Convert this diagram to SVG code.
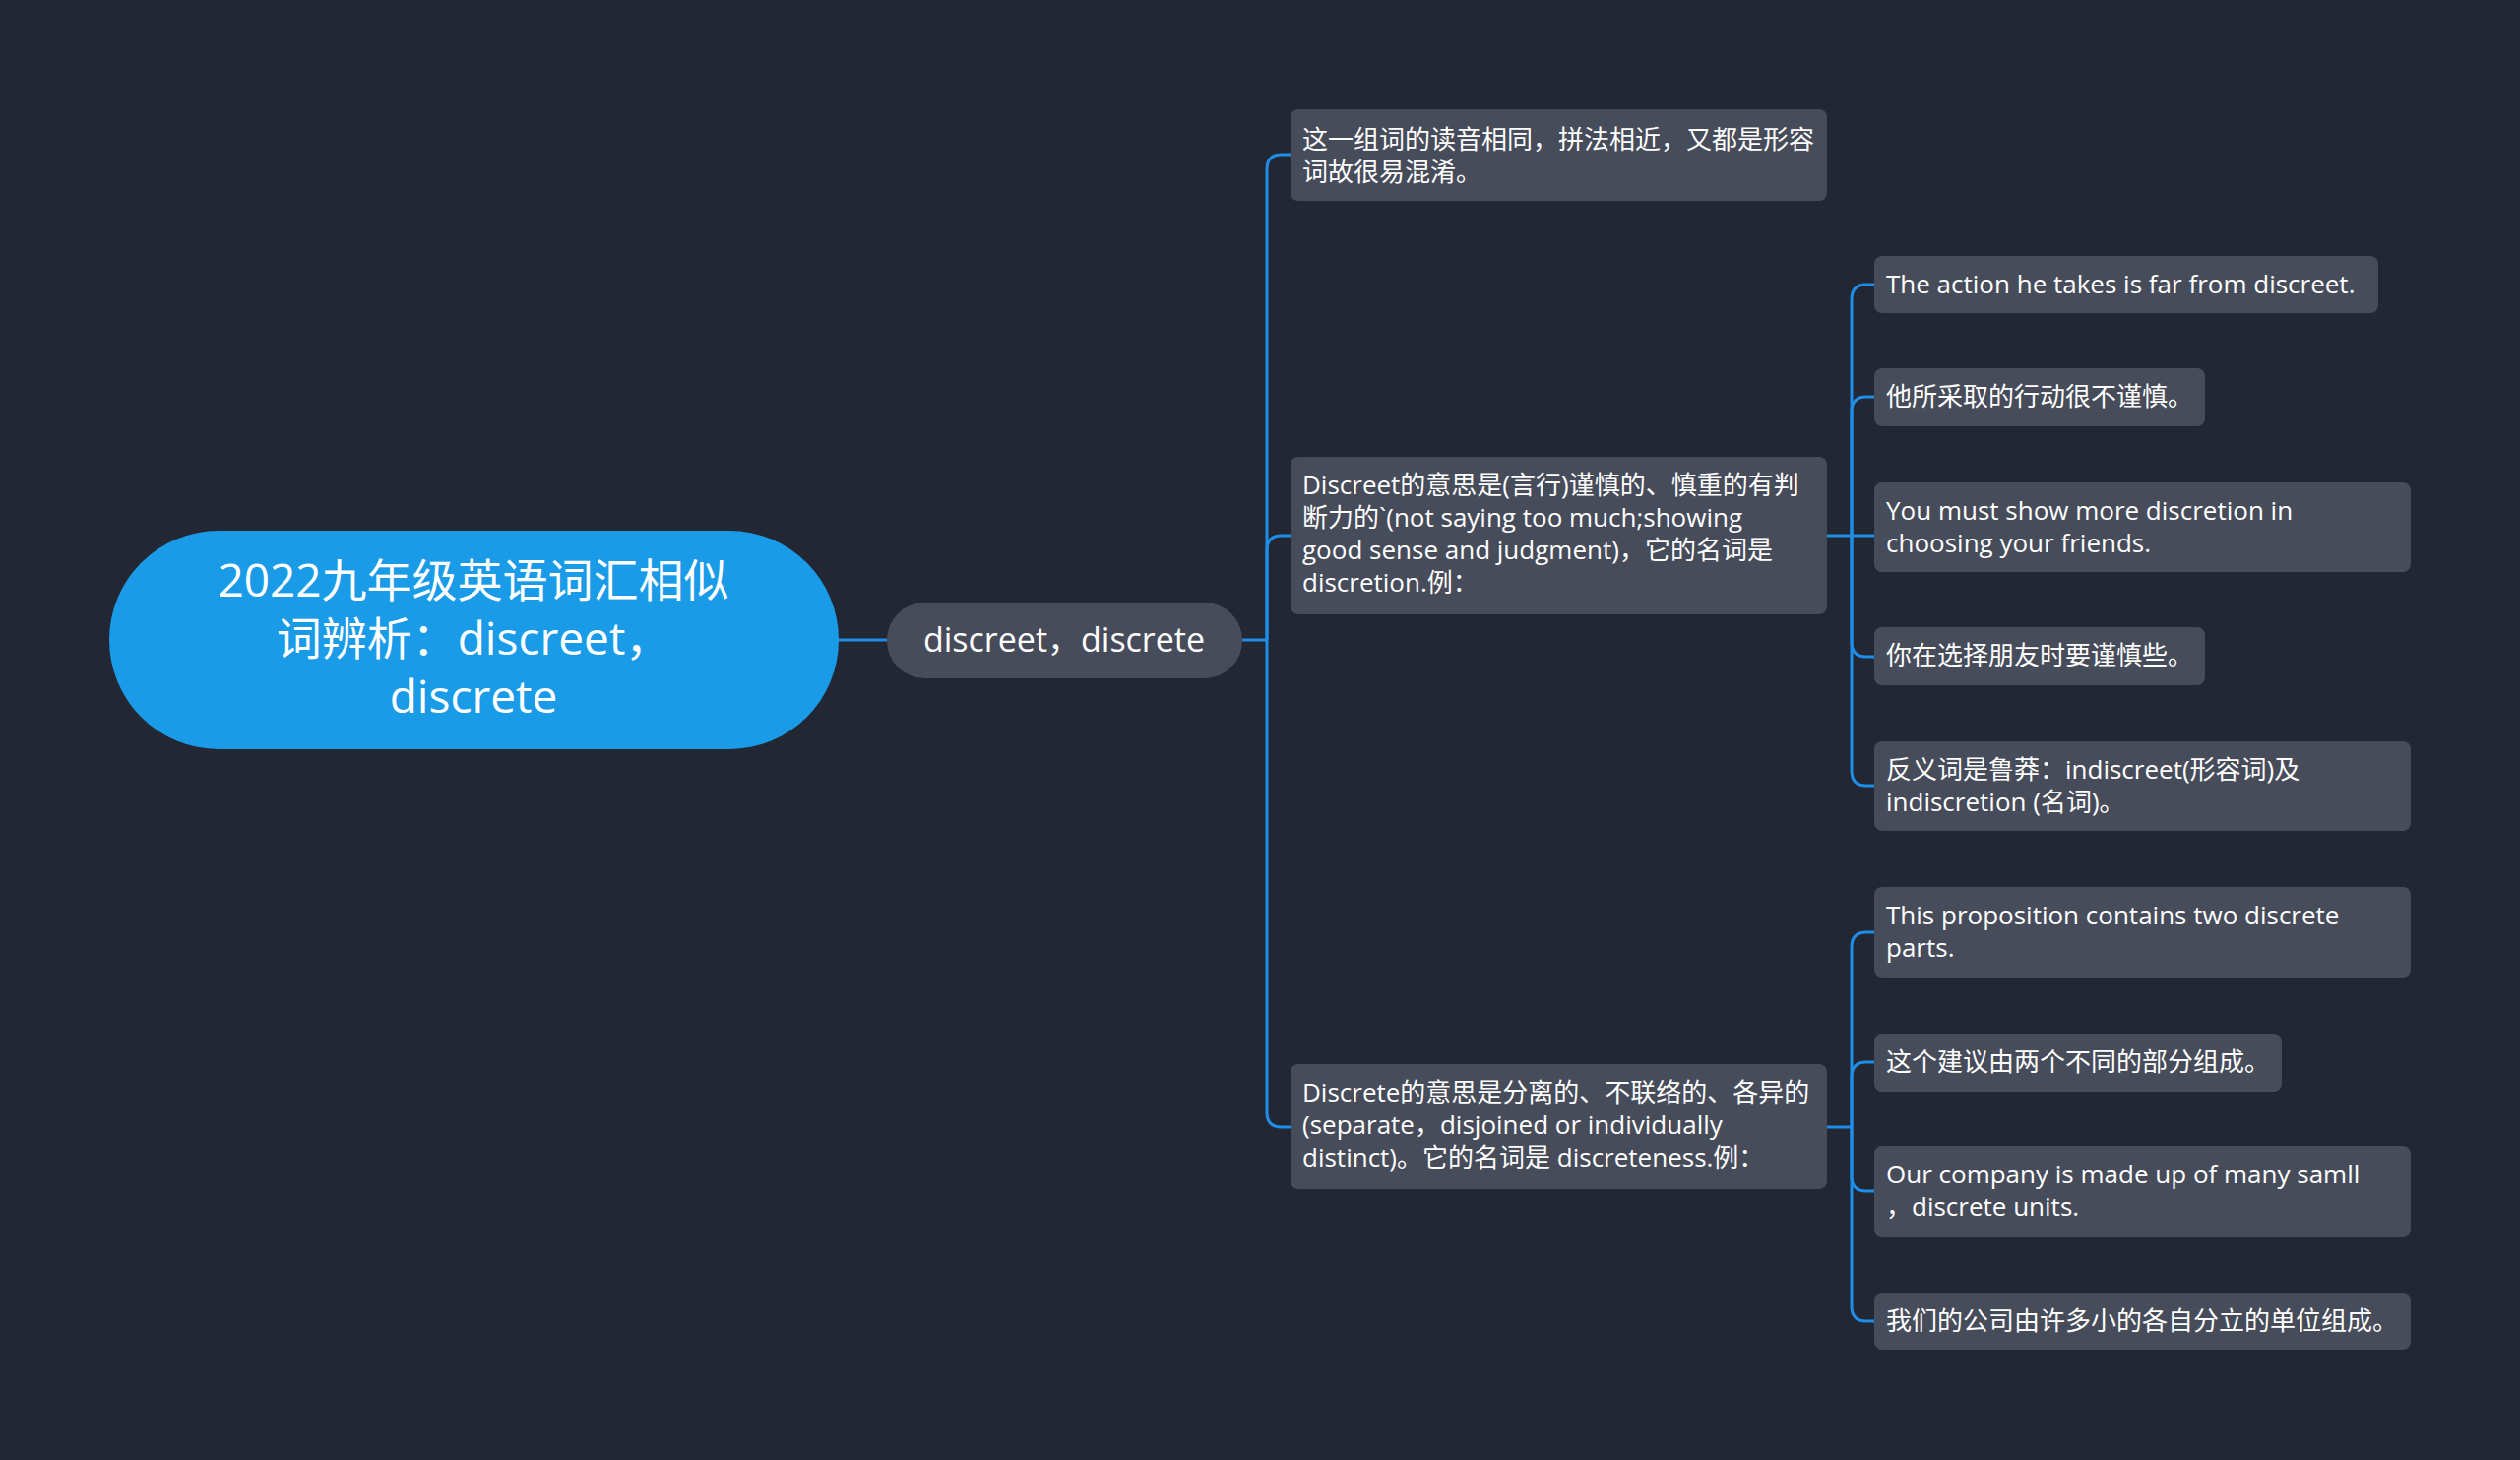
<svg xmlns="http://www.w3.org/2000/svg" width="2560" height="1483" viewBox="0 0 2560 1483">
<style>
.bg{fill:#222733}
.n{fill:#474c5a}
.t{font-family:"Open Sans","Noto Sans CJK SC",sans-serif;font-size:26px;fill:#ffffff}
.c{fill:none;stroke:#1e8ee8;stroke-width:3}
</style>
<rect class="bg" x="0" y="0" width="2560" height="1483"/>
<g id="connectors">
<path class="c" d="M852,650 L901,650"/>
<path class="c" d="M1262,650 L1287,650"/>
<path class="c" d="M1287,650 L1287,172 Q1287,157 1302,157 L1311,157"/>
<path class="c" d="M1287,650 L1287,559 Q1287,544 1302,544 L1311,544"/>
<path class="c" d="M1287,650 L1287,1130 Q1287,1145 1302,1145 L1311,1145"/>
<path class="c" d="M1856,544 L1881,544"/>
<path class="c" d="M1881,544 L1881,304 Q1881,289 1896,289 L1904,289"/>
<path class="c" d="M1881,544 L1881,418 Q1881,403 1896,403 L1904,403"/>
<path class="c" d="M1881,544 L1881,544 L1904,544"/>
<path class="c" d="M1881,544 L1881,652 Q1881,667 1896,667 L1904,667"/>
<path class="c" d="M1881,544 L1881,783 Q1881,798 1896,798 L1904,798"/>
<path class="c" d="M1856,1145 L1881,1145"/>
<path class="c" d="M1881,1145 L1881,962 Q1881,947 1896,947 L1904,947"/>
<path class="c" d="M1881,1145 L1881,1094 Q1881,1079 1896,1079 L1904,1079"/>
<path class="c" d="M1881,1145 L1881,1195 Q1881,1210 1896,1210 L1904,1210"/>
<path class="c" d="M1881,1145 L1881,1327 Q1881,1342 1896,1342 L1904,1342"/>
</g>
<g id="root">
<rect x="111" y="539" width="741" height="222" rx="111" fill="#1a9be8"/>
<text class="t" style="font-size:46px" text-anchor="middle"><tspan x="481" y="606">2022九年级英语词汇相似</tspan><tspan x="481" y="665">词辨析：discreet，</tspan><tspan x="481" y="724">discrete</tspan></text>
</g>
<g id="main">
<rect class="n" x="901" y="612" width="361" height="77" rx="38"/>
<text class="t" style="font-size:34px" x="1081" y="662" text-anchor="middle">discreet，discrete</text>
</g>
<g id="n1"><rect class="n" x="1311" y="111" width="545" height="93" rx="8"/>
<text class="t"><tspan x="1323" y="151">这一组词的读音相同，拼法相近，又都是形容</tspan><tspan x="1323" y="184">词故很易混淆。</tspan></text></g>
<g id="n2"><rect class="n" x="1311" y="464" width="545" height="160" rx="8"/>
<text class="t"><tspan x="1323" y="502">Discreet的意思是(言行)谨慎的、慎重的有判</tspan><tspan x="1323" y="535">断力的`(not saying too much;showing</tspan><tspan x="1323" y="568">good sense and judgment)，它的名词是</tspan><tspan x="1323" y="601">discretion.例：</tspan></text></g>
<g id="n3"><rect class="n" x="1311" y="1081" width="545" height="127" rx="8"/>
<text class="t"><tspan x="1323" y="1119">Discrete的意思是分离的、不联络的、各异的</tspan><tspan x="1323" y="1152">(separate，disjoined or individually</tspan><tspan x="1323" y="1185">distinct)。它的名词是 discreteness.例：</tspan></text></g>
<g id="a1"><rect class="n" x="1904" y="260" width="512" height="58" rx="8"/><text class="t" x="1916" y="298">The action he takes is far from discreet.</text></g>
<g id="a2"><rect class="n" x="1904" y="374" width="336" height="59" rx="8"/><text class="t" x="1916" y="412">他所采取的行动很不谨慎。</text></g>
<g id="a3"><rect class="n" x="1904" y="490" width="545" height="91" rx="8"/><text class="t"><tspan x="1916" y="528">You must show more discretion in</tspan><tspan x="1916" y="561">choosing your friends.</tspan></text></g>
<g id="a4"><rect class="n" x="1904" y="637" width="336" height="59" rx="8"/><text class="t" x="1916" y="675">你在选择朋友时要谨慎些。</text></g>
<g id="a5"><rect class="n" x="1904" y="753" width="545" height="91" rx="8"/><text class="t"><tspan x="1916" y="791">反义词是鲁莽：indiscreet(形容词)及</tspan><tspan x="1916" y="824">indiscretion (名词)。</tspan></text></g>
<g id="b1"><rect class="n" x="1904" y="901" width="545" height="92" rx="8"/><text class="t"><tspan x="1916" y="939">This proposition contains two discrete</tspan><tspan x="1916" y="972">parts.</tspan></text></g>
<g id="b2"><rect class="n" x="1904" y="1050" width="414" height="59" rx="8"/><text class="t" x="1916" y="1088">这个建议由两个不同的部分组成。</text></g>
<g id="b3"><rect class="n" x="1904" y="1164" width="545" height="92" rx="8"/><text class="t"><tspan x="1916" y="1202">Our company is made up of many samll</tspan><tspan x="1916" y="1235">，discrete units.</tspan></text></g>
<g id="b4"><rect class="n" x="1904" y="1313" width="545" height="58" rx="8"/><text class="t" x="1916" y="1351">我们的公司由许多小的各自分立的单位组成。</text></g>
</svg>
